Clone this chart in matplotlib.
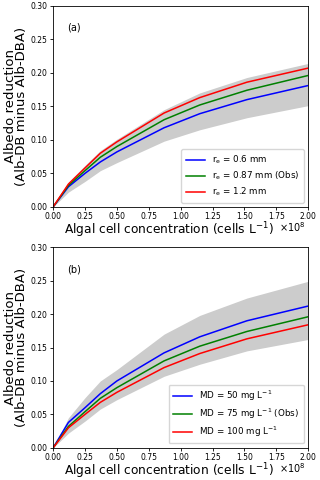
import matplotlib.pyplot as plt
import numpy as np

# algal cell concentration (x 1e8 cells/L)
conc = [0.0, 0.12, 0.25, 0.37, 0.5, 0.87, 1.15, 1.52, 2.0]

# panel (a): grain size
re_06 = [0.0, 0.030, 0.050, 0.067, 0.082, 0.118, 0.139, 0.160, 0.181]
re_087 = [0.0, 0.032, 0.054, 0.074, 0.090, 0.130, 0.152, 0.174, 0.196]
re_12 = [0.0, 0.034, 0.058, 0.080, 0.097, 0.140, 0.163, 0.186, 0.207]
a_low = [0.0, 0.022, 0.038, 0.054, 0.066, 0.098, 0.115, 0.133, 0.151]
a_high = [0.0, 0.037, 0.062, 0.084, 0.101, 0.145, 0.170, 0.193, 0.214]

# panel (b): mineral dust
md_50 = [0.0, 0.038, 0.060, 0.081, 0.100, 0.142, 0.166, 0.190, 0.212]
md_75 = [0.0, 0.032, 0.054, 0.074, 0.090, 0.130, 0.152, 0.174, 0.196]
md_100 = [0.0, 0.030, 0.050, 0.068, 0.083, 0.120, 0.141, 0.163, 0.184]
b_low = [0.0, 0.022, 0.040, 0.058, 0.072, 0.107, 0.125, 0.145, 0.162]
b_high = [0.0, 0.045, 0.075, 0.100, 0.117, 0.170, 0.198, 0.224, 0.249]

labels_a = [r"r$_{\rm e}$ = 0.6 mm", r"r$_{\rm e}$ = 0.87 mm (Obs)", r"r$_{\rm e}$ = 1.2 mm"]
labels_b = [r"MD = 50 mg L$^{-1}$", r"MD = 75 mg L$^{-1}$ (Obs)", r"MD = 100 mg L$^{-1}$"]

fig = plt.figure(figsize=(3.2, 4.8), dpi=100)
ax1 = fig.add_axes([0.166, 0.569, 0.797, 0.419])
ax2 = fig.add_axes([0.166, 0.067, 0.797, 0.418])

panels = [
    (ax1, "(a)", [re_06, re_087, re_12], a_low, a_high, labels_a),
    (ax2, "(b)", [md_50, md_75, md_100], b_low, b_high, labels_b),
]

for ax, tag, series, lo, hi, labs in panels:
    ax.fill_between(conc, lo, hi, color="#cccccc", linewidth=0)
    for s, c, l in zip(series, ["blue", "green", "red"], labs):
        ax.plot(conc, s, color=c, linewidth=1.1, label=l)
    ax.set_xlim(0, 2.0)
    ax.set_ylim(0, 0.30)
    ax.set_xticks(np.arange(0, 2.01, 0.25))
    ax.set_yticks(np.arange(0, 0.301, 0.05))
    ax.tick_params(labelsize=5.5, length=2.5, width=0.6, pad=1.5)
    ax.text(0.99, -0.10, r"$\times$10$^{8}$", transform=ax.transAxes,
            ha="right", va="center", fontsize=7)
    ax.set_xlabel(r"Algal cell concentration (cells L$^{-1}$)", fontsize=8.8, labelpad=-1)
    ax.xaxis.label.set_x(0.455)
    ax.set_ylabel("Albedo reduction\n(Alb-DB minus Alb-DBA)", fontsize=9.5, linespacing=0.85)
    ax.yaxis.set_label_coords(-0.098, 0.5)
    ax.text(0.055, 0.875, tag, transform=ax.transAxes, fontsize=7)
    ax.legend(loc="lower right", fontsize=6.3, handlelength=2.2, borderpad=0.5,
              labelspacing=0.4, frameon=True)
    for sp in ax.spines.values():
        sp.set_linewidth(0.6)

fig.savefig("out.png", dpi=100)
